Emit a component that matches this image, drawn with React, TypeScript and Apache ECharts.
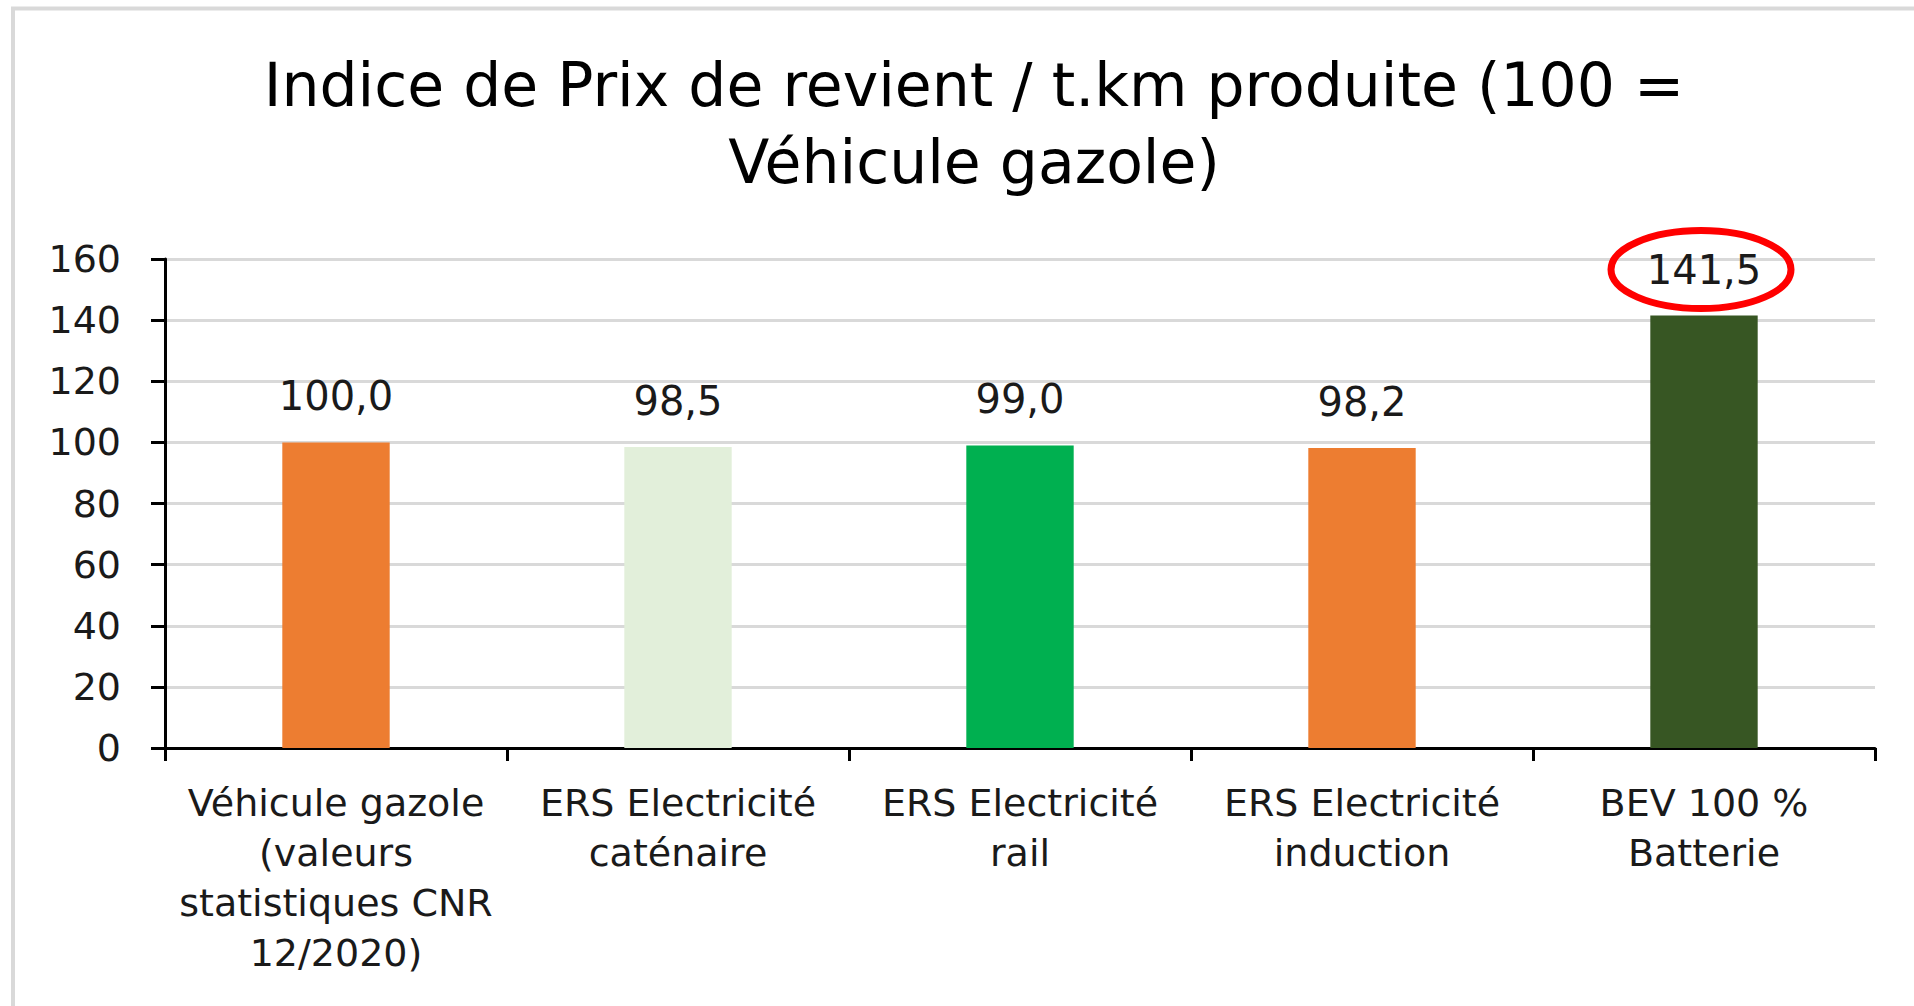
import React, { useEffect, useRef } from "react";
import * as echarts from "echarts";

const titleLines = ["Indice de Prix de revient / t.km produite (100 =", "Véhicule gazole)"];
const categories = [
  "Véhicule gazole\n(valeurs\nstatistiques CNR\n12/2020)",
  "ERS Electricité\ncaténaire",
  "ERS Electricité\nrail",
  "ERS Electricité\ninduction",
  "BEV 100 %\nBatterie",
];
const values = [100.0, 98.5, 99.0, 98.2, 141.5];
const barColors = ["#ED7D31", "#E2EFDA", "#00B050", "#ED7D31", "#375623"];
const yTicks = { min: 0, max: 160, interval: 20 };
const highlightIndex = 4;

const FONT = "DejaVu Sans";

export default function App() {
  const ref = useRef<HTMLDivElement>(null);
  useEffect(() => {
    document.body.style.margin = "0";
    const chart = echarts.init(ref.current!, null, { renderer: "svg" });
    const option: any = {
      animation: false,
      backgroundColor: "#ffffff",
      title: {
        text: titleLines.join("\n"),
        left: 969,
        textAlign: "center",
        top: 41,
        textStyle: { fontFamily: FONT, fontSize: 60, fontWeight: "normal", color: "#000", lineHeight: 77 },
      },
      grid: { left: 165, right: 39, top: 259, bottom: 258 },
      xAxis: {
        type: "category",
        data: categories,
        axisLine: { lineStyle: { color: "#000", width: 3 } },
        axisTick: { show: true, length: 13, lineStyle: { color: "#000", width: 3 } },
        axisLabel: { interval: 0, fontFamily: FONT, fontSize: 38, color: "#1a1a1a", lineHeight: 50, margin: 30 },
      },
      yAxis: {
        type: "value",
        min: yTicks.min,
        max: yTicks.max,
        interval: yTicks.interval,
        axisLine: { show: true, lineStyle: { color: "#000", width: 3 } },
        axisTick: { show: true, length: 14, lineStyle: { color: "#000", width: 3 } },
        axisLabel: { fontFamily: FONT, fontSize: 38, color: "#1a1a1a", margin: 44 },
        splitLine: { lineStyle: { color: "#d9d9d9", width: 3 } },
      },
      series: [
        {
          type: "bar",
          barWidth: "31.4%",
          data: values.map((v, i) => ({ value: v, itemStyle: { color: barColors[i] } })),
          label: {
            show: true,
            position: "top",
            distance: 26,
            fontFamily: FONT,
            fontSize: 40,
            color: "#1a1a1a",
            formatter: (p: any) => Number(p.value).toFixed(1).replace(".", ","),
          },
        },
      ],
    };
    chart.setOption(option);
    const pt = chart.convertToPixel({ xAxisIndex: 0, yAxisIndex: 0 }, [highlightIndex, values[highlightIndex]]);
    chart.setOption({
      graphic: [
        {
          type: "rect",
          shape: { x: 13, y: 8.5, width: 3000, height: 3000 },
          style: { fill: "none", stroke: "#d9d9d9", lineWidth: 4 },
          silent: true,
        },
        {
          type: "ellipse",
          shape: { cx: pt[0] - 3, cy: pt[1] - 46, rx: 90, ry: 39 },
          style: { fill: "none", stroke: "#ff0000", lineWidth: 7 },
          silent: true,
        },
      ],
    });
    return () => chart.dispose();
  }, []);
  return <div ref={ref} style={{ width: 1914, height: 1006 }} />;
}
